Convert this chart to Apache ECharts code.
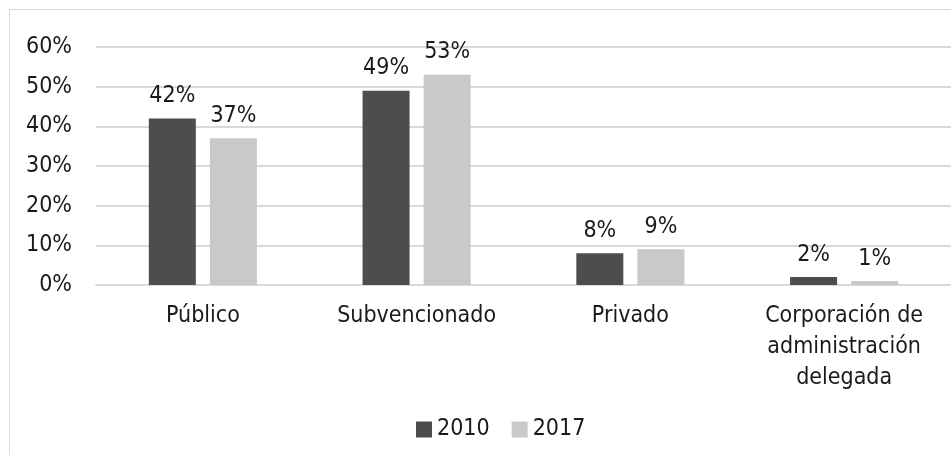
<!DOCTYPE html>
<html lang="es">
<head>
<meta charset="UTF-8">
<title>Matrícula por dependencia</title>
<script src="https://cdn.jsdelivr.net/npm/echarts@6/dist/echarts.min.js"></script>
<style>
  html, body { margin: 0; padding: 0; background: #fff; }
  #frame { position: absolute; left: 9px; top: 9px; width: 960px; height: 460px; border: 1px solid #d9d9d9; box-sizing: border-box; }
  #chart { position: absolute; left: 0; top: 0; width: 951px; height: 455px; }
</style>
</head>
<body>
<div id="frame"></div>
<div id="chart"></div>
<script>
// categorías y valores (%)
var categories = ['Público', 'Subvencionado', 'Privado', 'Corporación de\nadministración\ndelegada'];
var seriesNames = ['2010', '2017'];
var values2010 = [42, 49, 8, 2];
var values2017 = [37, 53, 9, 1];
var yTicks = [0, 10, 20, 30, 40, 50, 60];

var font = 'DejaVu Sans Condensed';
var myChart = echarts.init(document.getElementById('chart'));

var labelOpt = {
  show: true,
  position: 'top',
  distance: 11,
  formatter: '{c}%',
  color: '#1a1a1a',
  fontFamily: font,
  fontSize: 23
};

var option = {
  animation: false,
  textStyle: { fontFamily: font },
  grid: { left: 96, top: 47, width: 860, height: 238, containLabel: false },
  legend: {
    top: 413,
    left: 411,
    itemWidth: 16,
    itemHeight: 16,
    itemGap: 22,
    icon: 'rect',
    textStyle: { fontFamily: font, fontSize: 23, color: '#1a1a1a' },
    data: seriesNames
  },
  xAxis: {
    type: 'category',
    data: categories,
    axisLine: { lineStyle: { color: '#d9d9d9', width: 2 } },
    axisTick: { show: false },
    axisLabel: { color: '#1a1a1a', fontFamily: font, fontSize: 23, lineHeight: 31, margin: 16, interval: 0 }
  },
  yAxis: {
    type: 'value',
    min: yTicks[0],
    max: yTicks[yTicks.length - 1],
    interval: 10,
    axisLine: { show: false },
    axisTick: { show: false },
    splitLine: { lineStyle: { color: '#d9d9d9', width: 2 } },
    axisLabel: { color: '#1a1a1a', fontFamily: font, fontSize: 23, margin: 24, formatter: '{value}%' }
  },
  series: [
    {
      name: seriesNames[0],
      type: 'bar',
      data: values2010,
      barWidth: 47,
      barGap: '30%',
      itemStyle: { color: '#4d4d4d' },
      label: labelOpt
    },
    {
      name: seriesNames[1],
      type: 'bar',
      data: values2017,
      barWidth: 47,
      itemStyle: { color: '#c9c9c9' },
      label: labelOpt
    }
  ]
};

myChart.setOption(option);
</script>
</body>
</html>
